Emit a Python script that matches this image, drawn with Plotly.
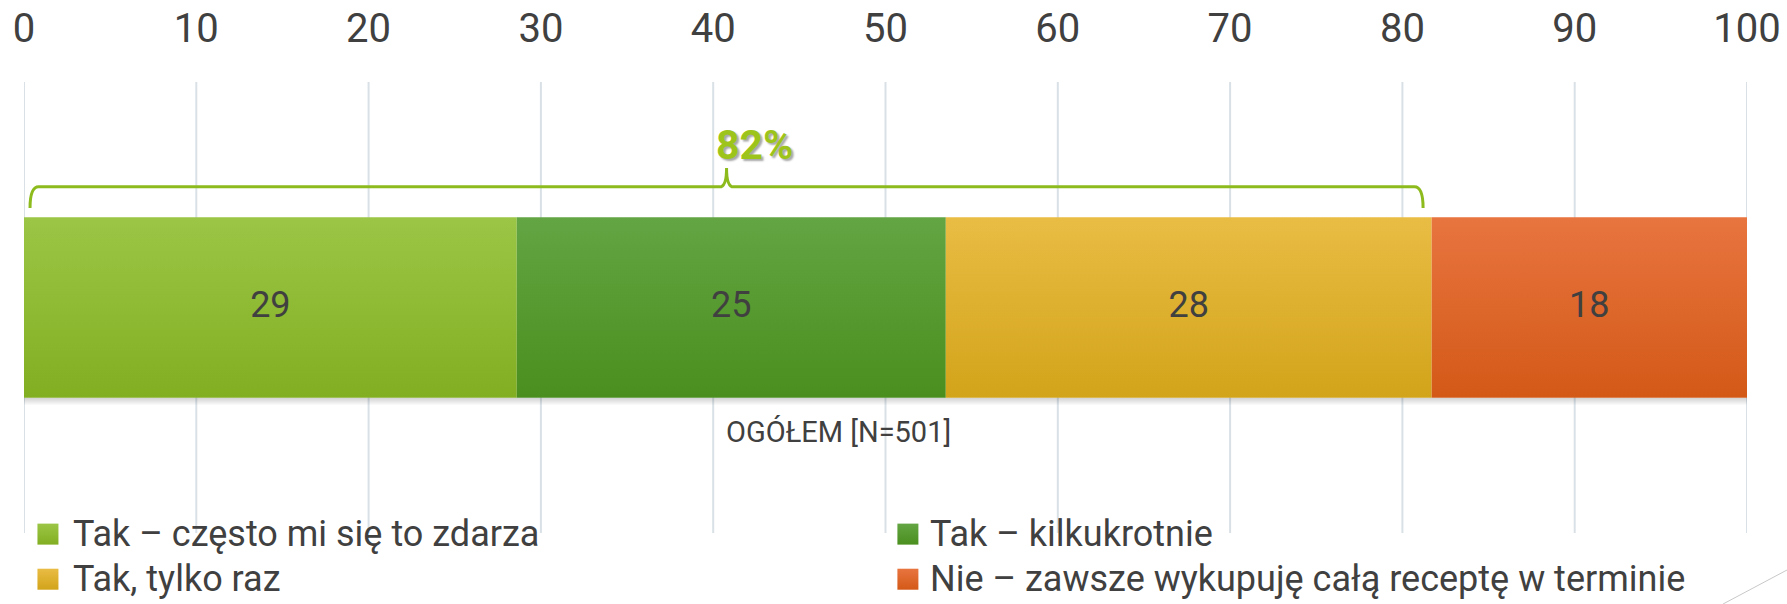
import plotly.graph_objects as go

# ---- data ----
category = "OGÓŁEM [N=501]"
series_names = [
    "Tak – często mi się to zdarza",
    "Tak – kilkukrotnie",
    "Tak, tylko raz",
    "Nie – zawsze wykupuję całą receptę w terminie",
]
values = [28.6, 24.9, 28.2, 18.3]
tick_values = [0, 10, 20, 30, 40, 50, 60, 70, 80, 90, 100]
tick_labels = ["0", "10", "20", "30", "40", "50", "60", "70", "80", "90", "100"]
bracket_series = 3  # first three series summed in the bracket

# ---- style ----
top_colors = ["#9BC646", "#63A543", "#E9BC44", "#E8743F"]
bottom_colors = ["#82AE22", "#4A8F1E", "#D2A41A", "#D35917"]
TEXT = "#404040"
FONT = "Roboto, Arial, sans-serif"
H = 0.40
Y_TOP, Y_BOTTOM = 1.0, -1.3149
GRID_BOTTOM = -1.0

fig = go.Figure()

# grid lines (stop above the legend area)
for t in tick_values:
    fig.add_shape(type="line", xref="x", yref="y", x0=t, x1=t, y0=GRID_BOTTOM, y1=Y_TOP,
                  line=dict(color="#D9E1E7", width=2), layer="below")

# soft shadow under the bar
fig.add_trace(go.Scatter(
    x=[0, sum(values), sum(values), 0, 0], y=[-H - 0.035, -H - 0.035, -H, -H, -H - 0.035],
    fill="toself", mode="lines", line=dict(width=0),
    fillgradient=dict(type="vertical", colorscale=[[0, "rgba(0,0,0,0)"], [1, "rgba(0,0,0,0.18)"]]),
    showlegend=False, hoverinfo="skip"))

starts = []
acc = 0
for v in values:
    starts.append(acc)
    acc += v

for i, (name, v) in enumerate(zip(series_names, values)):
    x0, x1 = starts[i], starts[i] + v
    fig.add_trace(go.Scatter(
        x=[x0, x1, x1, x0, x0], y=[-H, -H, H, H, -H],
        fill="toself", mode="lines", line=dict(width=0),
        fillgradient=dict(type="vertical", colorscale=[[0, bottom_colors[i]], [1, top_colors[i]]]),
        name=name, showlegend=False, hoveron="fills", hoverinfo="name"))

# value labels
fig.add_trace(go.Scatter(
    x=[s + v / 2 for s, v in zip(starts, values)], y=[0] * len(values),
    mode="text", text=[f"{v:.0f}" for v in values],
    textfont=dict(size=36, color=TEXT, family=FONT),
    showlegend=False, hoverinfo="skip"))

# bracket
bsum = sum(values[:bracket_series])
bx0, bx1 = 0.35, bsum - 0.5
bm = (bx0 + bx1) / 2
yh, ye, yp = 0.535, 0.441, 0.619
path = (f"M {bx0},{ye} Q {bx0},{yh} {bx0+0.5},{yh} L {bm-0.4},{yh} "
        f"Q {bm},{yh} {bm},{yp} Q {bm},{yh} {bm+0.4},{yh} L {bx1-0.5},{yh} "
        f"Q {bx1},{yh} {bx1},{ye}")
fig.add_shape(type="path", path=path, xref="x", yref="y",
              line=dict(color="#8DBB1E", width=3))
fig.add_annotation(x=bm + 1.6, y=0.722, xref="x", yref="y", text=f"<b>{bsum:.0f}%</b>",
                   showarrow=False,
                   font=dict(size=41, color="#9DC41A", family=FONT,
                             shadow="2px 2px 2px rgba(0,0,0,0.35)"))

# category label
fig.add_annotation(x=47.3, y=-0.55, xref="x", yref="y", text=category, showarrow=False,
                   font=dict(size=29, color=TEXT, family=FONT))

# legend (two columns)
leg_x_marker = [1.39, 51.3, 1.39, 51.3]
leg_x_text = [2.73, 52.47, 2.73, 52.47]
leg_y = [-1.005, -1.005, -1.205, -1.205]
fig.add_trace(go.Scatter(
    x=leg_x_marker, y=leg_y, mode="markers",
    marker=dict(symbol="square", size=21, color=top_colors,
                gradient=dict(type="vertical", color=bottom_colors), line=dict(width=0)),
    cliponaxis=False, showlegend=False, hoverinfo="skip"))
for i, name in enumerate(series_names):
    fig.add_annotation(x=leg_x_text[i], y=leg_y[i], xref="x", yref="y", text=name,
                       showarrow=False, xanchor="left", yanchor="middle",
                       font=dict(size=36, color=TEXT, family=FONT))

# decorative corner line
fig.add_shape(type="line", xref="paper", yref="paper", x0=0.9861, y0=0.0, x1=1.0232, y1=0.0651,
              line=dict(color="#C8C8C8", width=1))

fig.update_layout(
    width=1787, height=604,
    margin=dict(l=24, r=40, t=82, b=0),
    paper_bgcolor="white", plot_bgcolor="white",
    font=dict(family=FONT, color=TEXT),
    xaxis=dict(range=[0, 100], side="top", tickvals=tick_values, ticktext=tick_labels,
               showgrid=False, zeroline=False,
               showline=False, ticks="", ticklabelstandoff=31,
               tickfont=dict(size=40, color=TEXT, family=FONT), fixedrange=True),
    yaxis=dict(range=[Y_BOTTOM, Y_TOP], visible=False, fixedrange=True),
    showlegend=False,
)

fig.write_html("out.html", config={"displayModeBar": False},
               post_script="document.body.style.margin='0';document.body.style.overflow='hidden';")
